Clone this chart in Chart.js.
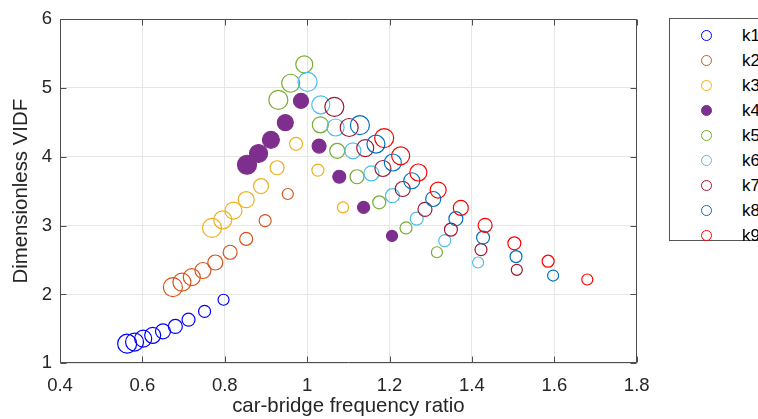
<!DOCTYPE html>
<html>
<head>
<meta charset="utf-8">
<script src="https://cdn.jsdelivr.net/npm/chart.js@4.4.1/dist/chart.umd.min.js"></script>
<style>
html,body{margin:0;padding:0;overflow:hidden;background:#fff;width:758px;height:419px}
#wrap{position:relative;width:758px;height:419px}
#c{position:absolute;left:0;top:0}
#legend{position:absolute;left:669px;top:18px;width:130px;height:223px;border:1px solid #555;box-sizing:border-box;background:#fff;font-family:"Liberation Sans",Arial,Helvetica,sans-serif;font-size:17px;color:#000}
.row{position:absolute;left:0;width:128px;height:25px}
.mk{position:absolute;left:31px;top:7px;width:9px;height:9px;border-radius:50%;border:1.2px solid #000}
.lb{position:absolute;left:72px;top:0;line-height:25px}
</style>
</head>
<body>
<div id="wrap">
<canvas id="c" width="758" height="419"></canvas>
<div id="legend"></div>
</div>
<script>
// ---- data ----
const seriesNames = ['k1','k2','k3','k4','k5','k6','k7','k8','k9'];
const k1x = [0.563,0.581,0.602,0.625,0.650,0.680,0.712,0.751,0.797];
const k1y = [1.285,1.309,1.358,1.406,1.464,1.536,1.633,1.754,1.923];
const k2x = [0.674,0.696,0.720,0.747,0.777,0.813,0.852,0.898,0.953];
const k2y = [2.106,2.178,2.251,2.348,2.464,2.613,2.807,3.072,3.459];
const k3x = [0.769,0.795,0.821,0.852,0.888,0.927,0.973,1.026,1.087];
const k3y = [2.967,3.083,3.217,3.377,3.575,3.841,4.188,3.807,3.265];
const k4x = [0.854,0.882,0.912,0.947,0.985,1.029,1.078,1.137,1.206];
const k4y = [3.884,4.048,4.246,4.497,4.812,4.155,3.710,3.265,2.851];
const k5x = [0.930,0.960,0.993,1.032,1.073,1.121,1.175,1.240,1.315];
const k5y = [4.826,5.068,5.343,4.464,4.087,3.710,3.338,2.967,2.613];
const k6x = [1.001,1.033,1.069,1.111,1.156,1.207,1.266,1.334,1.415];
const k6y = [5.087,4.754,4.425,4.087,3.758,3.435,3.101,2.783,2.464];
const k7x = [1.066,1.102,1.141,1.184,1.232,1.286,1.349,1.422,1.509];
const k7y = [4.725,4.425,4.126,3.830,3.532,3.236,2.942,2.652,2.358];
const k8x = [1.128,1.167,1.208,1.254,1.306,1.361,1.427,1.507,1.597];
const k8y = [4.459,4.184,3.917,3.652,3.387,3.101,2.826,2.551,2.275];
const k9x = [1.187,1.227,1.270,1.318,1.373,1.432,1.503,1.585,1.680];
const k9y = [4.271,4.014,3.772,3.517,3.257,3.004,2.743,2.483,2.217];
const xTicks = [0.4,0.6,0.8,1.0,1.2,1.4,1.6,1.8];
const xTickLabels = ['0.4','0.6','0.8','1','1.2','1.4','1.6','1.8'];
const yTicks = [1,2,3,4,5,6];
const yTickLabels = ['1','2','3','4','5','6'];

// ---- styles ----
const colors = ['#0000FF','#D95319','#EDB120','#7E2F8E','#77AC30','#4DBEEE','#A2142F','#0072BD','#FF0000'];
const filled = [false,false,false,true,false,false,false,false,false];
const markerRadius = [9.5,9,8.5,8,7.5,7,6.5,6,5.5];
const FONT = '"Liberation Sans", Arial, Helvetica, sans-serif';

const xs = [k1x,k2x,k3x,k4x,k5x,k6x,k7x,k8x,k9x];
const ys = [k1y,k2y,k3y,k4y,k5y,k6y,k7y,k8y,k9y];

const datasets = seriesNames.map((name,i)=>({
  label: name,
  data: xs[i].map((x,j)=>({x:x, y:ys[i][j]})),
  pointRadius: markerRadius.slice(0, xs[i].length),
  pointHoverRadius: markerRadius.slice(0, xs[i].length),
  pointBorderWidth: 1.2,
  pointBorderColor: colors[i],
  pointBackgroundColor: filled[i] ? colors[i] : 'rgba(0,0,0,0)',
  showLine: false,
  order: seriesNames.length - i
}));

const boxPlugin = {
  id: 'boxTicks',
  afterDraw(chart){
    const {ctx, chartArea, scales} = chart;
    const L = Math.round(chartArea.left)+0.5, R = Math.round(chartArea.right)-0.5;
    const T = Math.round(chartArea.top)+0.5, B = Math.round(chartArea.bottom)-0.5;
    ctx.save();
    ctx.strokeStyle = '#4d4d4d';
    ctx.lineWidth = 1;
    ctx.beginPath();
    ctx.rect(L, T, R-L, B-T);
    xTicks.forEach(v=>{
      const px = Math.round(scales.x.getPixelForValue(v))+0.5;
      ctx.moveTo(px,B); ctx.lineTo(px,B-6);
      ctx.moveTo(px,T); ctx.lineTo(px,T+6);
    });
    yTicks.forEach(v=>{
      const py = Math.round(scales.y.getPixelForValue(v))+0.5;
      ctx.moveTo(L,py); ctx.lineTo(L+6,py);
      ctx.moveTo(R,py); ctx.lineTo(R-6,py);
    });
    ctx.stroke();
    ctx.restore();
  }
};

new Chart(document.getElementById('c'), {
  type: 'scatter',
  data: { datasets },
  options: {
    responsive: false,
    animation: false,
    events: [],
    layout: { padding: { left: 0, right: 121.3, top: 18.3, bottom: 0 } },
    plugins: { legend: { display: false }, tooltip: { enabled: false } },
    scales: {
      x: {
        type: 'linear', min: 0.4, max: 1.8,
        afterBuildTicks: s => { s.ticks = xTicks.map(v=>({value:v})); },
        afterFit: s => { s.height = 55.7; },
        ticks: { callback: (v,i)=>xTickLabels[i], color:'#262626', padding: 11.4, maxRotation:0, autoSkip:false,
                 font:{family:FONT, size:18.5} },
        grid: { color:'#e6e6e6', lineWidth:1, drawTicks:false },
        border: { display:false },
        title: { display:true, text:'car-bridge frequency ratio', color:'#262626',
                 font:{family:FONT, size:20.4}, padding:{top:0, bottom:0.3} }
      },
      y: {
        type: 'linear', min: 1, max: 6,
        afterBuildTicks: s => { s.ticks = yTicks.map(v=>({value:v})); },
        afterFit: s => { s.width = 60; },
        ticks: { callback: (v,i)=>yTickLabels[i], color:'#262626', padding: 8, autoSkip:false,
                 font:{family:FONT, size:18.5} },
        grid: { color:'#e6e6e6', lineWidth:1, drawTicks:false },
        border: { display:false },
        title: { display:true, text:'Dimensionless VIDF', color:'#262626',
                 font:{family:FONT, size:20.4}, padding:{top:8.8, bottom:0} }
      }
    }
  },
  plugins: [boxPlugin]
});

// ---- legend (HTML) ----
const lg = document.getElementById('legend');
seriesNames.forEach((name,i)=>{
  const row = document.createElement('div');
  row.className = 'row';
  row.style.top = (3.5 + 25*i) + 'px';
  const mk = document.createElement('span');
  mk.className = 'mk';
  mk.style.borderColor = colors[i];
  if (filled[i]) mk.style.background = colors[i];
  const lb = document.createElement('span');
  lb.className = 'lb';
  lb.textContent = name;
  row.appendChild(mk); row.appendChild(lb);
  lg.appendChild(row);
});
</script>
</body>
</html>
